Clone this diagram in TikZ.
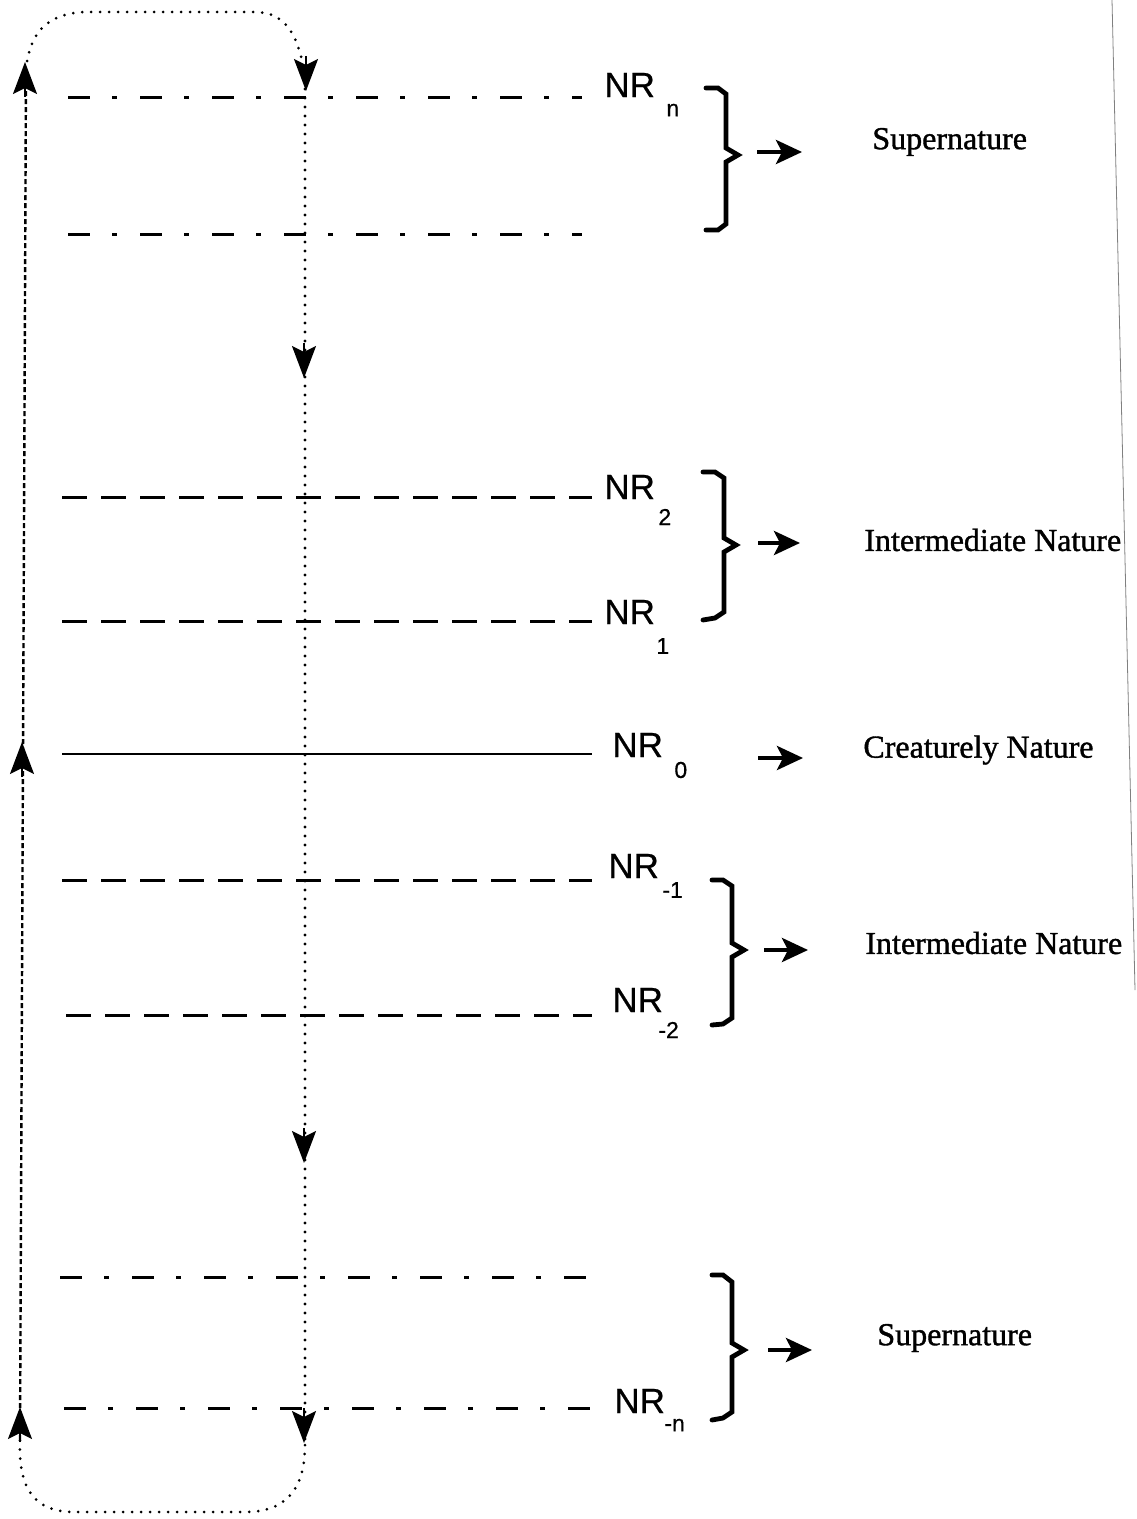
\documentclass[tikz,border=0pt]{standalone}
\usepackage{fontspec}
\setmainfont{Liberation Serif}[FakeBold=1.2]
\newfontfamily\nrfont{Liberation Sans}[FakeBold=0.6]
\newfontfamily\zonefont{Liberation Serif}[FakeBold=1.2]
\usetikzlibrary{arrows.meta}
\begin{document}
\begin{tikzpicture}[x=0.5pt,y=-0.5pt,
  dashdotline/.style={line width=1.5pt,dash pattern=on 11pt off 11pt on 2.5pt off 11.5pt},
  dashline/.style={line width=1.5pt,dash pattern=on 12.5pt off 7pt},
  solidline/.style={line width=1.4pt},
  leftline/.style={line width=1.2pt,dash pattern=on 2.5pt off 1.5pt},
  rightline/.style={line width=1.6pt,line cap=round,dash pattern=on 0pt off 4.5pt},
  loopline/.style={line width=1.5pt,line cap=round,dash pattern=on 0pt off 4.5pt},
  headtip/.style={line width=1pt,-{Stealth[length=16pt,width=12pt,inset=3pt]}},
  bracestyle/.style={line width=2.4pt,line cap=round,line join=miter},
  fatarrow/.style={line width=2.2pt,-{Stealth[length=13pt,width=12pt,inset=3pt]}},
  nrlabel/.style={font=\nrfont\fontsize{17.5}{20}\selectfont,anchor=west,inner sep=0pt},
  nrsub/.style={font=\nrfont\fontsize{11.5}{13}\selectfont,anchor=west,inner sep=0pt},
  zonelabel/.style={font=\zonefont\fontsize{16}{19}\selectfont,anchor=west,inner sep=0pt}
]
\useasboundingbox (0,0) rectangle (1136,1519);
\fill[white] (0,0) rectangle (1136,1519);

% scan border line at right
\draw[gray,line width=0.4pt] (1112,0) -- (1135,990);

% horizontal level lines
\coordinate (h1a) at (68,98);   \coordinate (h1b) at (582,98);
\coordinate (h2a) at (68,235);  \coordinate (h2b) at (582,235);
\coordinate (h3a) at (62,497);  \coordinate (h3b) at (592,497);
\coordinate (h4a) at (62,621);  \coordinate (h4b) at (592,621);
\coordinate (h5a) at (62,754);  \coordinate (h5b) at (592,754);
\coordinate (h6a) at (62,880);  \coordinate (h6b) at (592,880);
\coordinate (h7a) at (66,1015); \coordinate (h7b) at (592,1015);
\coordinate (h8a) at (60,1277); \coordinate (h8b) at (600,1277);
\coordinate (h9a) at (64,1408); \coordinate (h9b) at (612,1408);
\draw[dashdotline] (h1a) -- (h1b);
\draw[dashdotline] (h2a) -- (h2b);
\draw[dashline] (h3a) -- (h3b);
\draw[dashline] (h4a) -- (h4b);
\draw[solidline] (h5a) -- (h5b);
\draw[dashline] (h6a) -- (h6b);
\draw[dashline] (h7a) -- (h7b);
\draw[dashdotline] (h8a) -- (h8b);
\draw[dashdotline] (h9a) -- (h9b);

% circulation loop
\coordinate (Ltop) at (26,70);
\coordinate (Lbot) at (20,1440);
\coordinate (Rtop) at (305,80);
\coordinate (Rbot) at (305,1445);
\draw[leftline] (Lbot) -- (Ltop);
\draw[rightline] (Rtop) -- (Rbot);
\draw[loopline] (Ltop) .. controls (30,25) and (55,12) .. (90,12) -- (255,12)
  .. controls (285,12) and (300,35) .. (Rtop);
\draw[loopline] (Rbot) .. controls (305,1490) and (285,1512) .. (245,1512) -- (75,1512)
  .. controls (35,1512) and (18,1490) .. (Lbot);

% arrowheads on loop
\coordinate (la1) at (25,97);   \coordinate (la1t) at (25,62);
\coordinate (la2) at (22,777);  \coordinate (la2t) at (22,742);
\coordinate (la3) at (20,1442); \coordinate (la3t) at (20,1407);
\coordinate (ra1) at (306,56);  \coordinate (ra1t) at (306,91);
\coordinate (ra2) at (304,343); \coordinate (ra2t) at (304,378);
\coordinate (ra3) at (304,1128);\coordinate (ra3t) at (304,1163);
\coordinate (ra4) at (304,1408);\coordinate (ra4t) at (304,1443);
\draw[headtip] (la1) -- (la1t);
\draw[headtip] (la2) -- (la2t);
\draw[headtip] (la3) -- (la3t);
\draw[headtip] (ra1) -- (ra1t);
\draw[headtip] (ra2) -- (ra2t);
\draw[headtip] (ra3) -- (ra3t);
\draw[headtip] (ra4) -- (ra4t);

% NR labels
\node[nrlabel] (nrn) at (604,85) {NR};   \node[nrsub] (nrns) at (666,110) {n};
\node[nrlabel] (nr2) at (604,487) {NR};  \node[nrsub] (nr2s) at (658,517) {2};
\node[nrlabel] (nr1) at (604,612) {NR};  \node[nrsub] (nr1s) at (656,646) {1};
\node[nrlabel] (nr0) at (612,745) {NR};  \node[nrsub] (nr0s) at (674,770) {0};
\node[nrlabel] (nrm1) at (608,866) {NR}; \node[nrsub] (nrm1s) at (662,890) {-1};
\node[nrlabel] (nrm2) at (612,1000) {NR};\node[nrsub] (nrm2s) at (658,1030) {-2};
\node[nrlabel] (nrmn) at (614,1401) {NR};\node[nrsub] (nrmns) at (664,1425) {-n};

% braces
\draw[bracestyle] (706,88) -- (718,88) -- (726,94) -- (726,148) -- (738,155) -- (726,162) -- (726,224) -- (718,230) -- (706,230);
\draw[bracestyle] (703,472) -- (715,472) -- (724,478) -- (724,538) -- (736,545) -- (724,552) -- (724,612) -- (715,618) -- (703,620);
\draw[bracestyle] (712,880) -- (723,880) -- (732,886) -- (732,943) -- (744,950) -- (732,957) -- (732,1018) -- (723,1024) -- (712,1025);
\draw[bracestyle] (712,1275) -- (723,1275) -- (732,1282) -- (732,1343) -- (744,1350) -- (732,1357) -- (732,1412) -- (723,1418) -- (712,1420);

% pointing arrows
\coordinate (a1s) at (757,152);  \coordinate (a1e) at (802,152);
\coordinate (a2s) at (758,543);  \coordinate (a2e) at (800,543);
\coordinate (a3s) at (758,758);  \coordinate (a3e) at (803,758);
\coordinate (a4s) at (764,950);  \coordinate (a4e) at (808,950);
\coordinate (a5s) at (768,1350); \coordinate (a5e) at (812,1350);
\draw[fatarrow] (a1s) -- (a1e);
\draw[fatarrow] (a2s) -- (a2e);
\draw[fatarrow] (a3s) -- (a3e);
\draw[fatarrow] (a4s) -- (a4e);
\draw[fatarrow] (a5s) -- (a5e);

% zone labels
\node[zonelabel] (sup1) at (872,142) {Supernature};
\node[zonelabel] (int1) at (864,540) {Intermediate Nature};
\node[zonelabel] (cre) at (863,750) {Creaturely Nature};
\node[zonelabel] (int2) at (865,943) {Intermediate Nature};
\node[zonelabel] (sup2) at (877,1338) {Supernature};
\end{tikzpicture}
\end{document}
